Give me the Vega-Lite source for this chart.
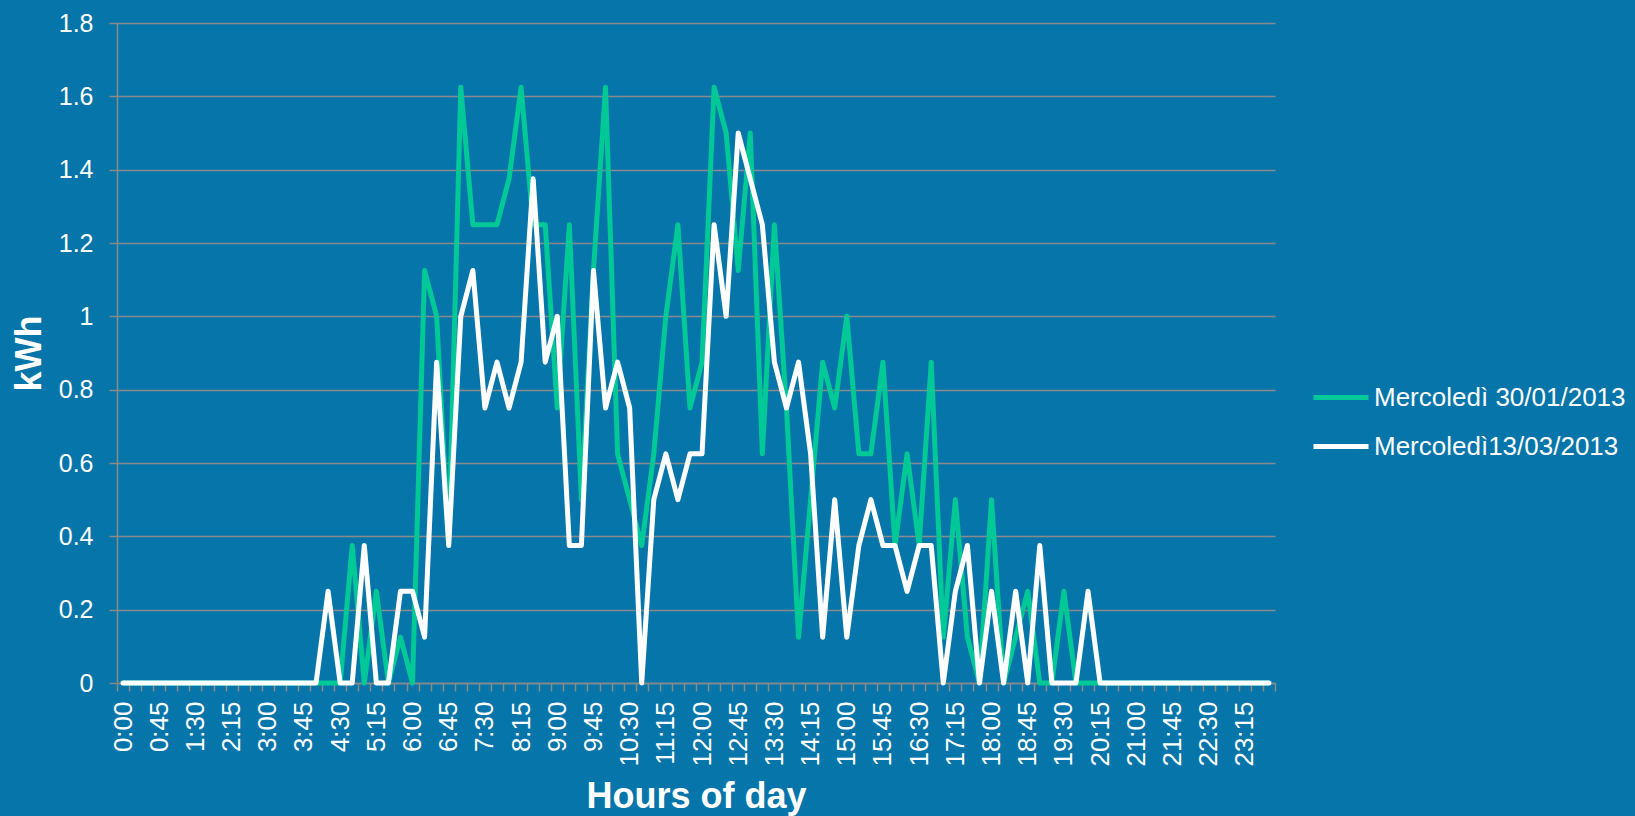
{
  "$schema": "https://vega.github.io/schema/vega-lite/v6.json",
  "width": 1158,
  "height": 660,
  "autosize": {"type": "none"},
  "padding": {"left": 117, "top": 23, "right": 360, "bottom": 133},
  "background": "#0675AA",
  "config": {
    "font": "Liberation Sans",
    "view": {"stroke": null}
  },
  "data": {
    "values": [
      {"t": "0:00", "Mercoledì 30/01/2013": 0, "Mercoledì13/03/2013": 0},
      {"t": "0:15", "Mercoledì 30/01/2013": 0, "Mercoledì13/03/2013": 0},
      {"t": "0:30", "Mercoledì 30/01/2013": 0, "Mercoledì13/03/2013": 0},
      {"t": "0:45", "Mercoledì 30/01/2013": 0, "Mercoledì13/03/2013": 0},
      {"t": "1:00", "Mercoledì 30/01/2013": 0, "Mercoledì13/03/2013": 0},
      {"t": "1:15", "Mercoledì 30/01/2013": 0, "Mercoledì13/03/2013": 0},
      {"t": "1:30", "Mercoledì 30/01/2013": 0, "Mercoledì13/03/2013": 0},
      {"t": "1:45", "Mercoledì 30/01/2013": 0, "Mercoledì13/03/2013": 0},
      {"t": "2:00", "Mercoledì 30/01/2013": 0, "Mercoledì13/03/2013": 0},
      {"t": "2:15", "Mercoledì 30/01/2013": 0, "Mercoledì13/03/2013": 0},
      {"t": "2:30", "Mercoledì 30/01/2013": 0, "Mercoledì13/03/2013": 0},
      {"t": "2:45", "Mercoledì 30/01/2013": 0, "Mercoledì13/03/2013": 0},
      {"t": "3:00", "Mercoledì 30/01/2013": 0, "Mercoledì13/03/2013": 0},
      {"t": "3:15", "Mercoledì 30/01/2013": 0, "Mercoledì13/03/2013": 0},
      {"t": "3:30", "Mercoledì 30/01/2013": 0, "Mercoledì13/03/2013": 0},
      {"t": "3:45", "Mercoledì 30/01/2013": 0, "Mercoledì13/03/2013": 0},
      {"t": "4:00", "Mercoledì 30/01/2013": 0, "Mercoledì13/03/2013": 0},
      {"t": "4:15", "Mercoledì 30/01/2013": 0, "Mercoledì13/03/2013": 0.25},
      {"t": "4:30", "Mercoledì 30/01/2013": 0, "Mercoledì13/03/2013": 0},
      {"t": "4:45", "Mercoledì 30/01/2013": 0.375, "Mercoledì13/03/2013": 0},
      {"t": "5:00", "Mercoledì 30/01/2013": 0, "Mercoledì13/03/2013": 0.375},
      {"t": "5:15", "Mercoledì 30/01/2013": 0.25, "Mercoledì13/03/2013": 0},
      {"t": "5:30", "Mercoledì 30/01/2013": 0, "Mercoledì13/03/2013": 0},
      {"t": "5:45", "Mercoledì 30/01/2013": 0.125, "Mercoledì13/03/2013": 0.25},
      {"t": "6:00", "Mercoledì 30/01/2013": 0, "Mercoledì13/03/2013": 0.25},
      {"t": "6:15", "Mercoledì 30/01/2013": 1.125, "Mercoledì13/03/2013": 0.125},
      {"t": "6:30", "Mercoledì 30/01/2013": 1, "Mercoledì13/03/2013": 0.875},
      {"t": "6:45", "Mercoledì 30/01/2013": 0.375, "Mercoledì13/03/2013": 0.375},
      {"t": "7:00", "Mercoledì 30/01/2013": 1.625, "Mercoledì13/03/2013": 1},
      {"t": "7:15", "Mercoledì 30/01/2013": 1.25, "Mercoledì13/03/2013": 1.125},
      {"t": "7:30", "Mercoledì 30/01/2013": 1.25, "Mercoledì13/03/2013": 0.75},
      {"t": "7:45", "Mercoledì 30/01/2013": 1.25, "Mercoledì13/03/2013": 0.875},
      {"t": "8:00", "Mercoledì 30/01/2013": 1.375, "Mercoledì13/03/2013": 0.75},
      {"t": "8:15", "Mercoledì 30/01/2013": 1.625, "Mercoledì13/03/2013": 0.875},
      {"t": "8:30", "Mercoledì 30/01/2013": 1.25, "Mercoledì13/03/2013": 1.375},
      {"t": "8:45", "Mercoledì 30/01/2013": 1.25, "Mercoledì13/03/2013": 0.875},
      {"t": "9:00", "Mercoledì 30/01/2013": 0.75, "Mercoledì13/03/2013": 1},
      {"t": "9:15", "Mercoledì 30/01/2013": 1.25, "Mercoledì13/03/2013": 0.375},
      {"t": "9:30", "Mercoledì 30/01/2013": 0.5, "Mercoledì13/03/2013": 0.375},
      {"t": "9:45", "Mercoledì 30/01/2013": 1.125, "Mercoledì13/03/2013": 1.125},
      {"t": "10:00", "Mercoledì 30/01/2013": 1.625, "Mercoledì13/03/2013": 0.75},
      {"t": "10:15", "Mercoledì 30/01/2013": 0.625, "Mercoledì13/03/2013": 0.875},
      {"t": "10:30", "Mercoledì 30/01/2013": 0.5, "Mercoledì13/03/2013": 0.75},
      {"t": "10:45", "Mercoledì 30/01/2013": 0.375, "Mercoledì13/03/2013": 0},
      {"t": "11:00", "Mercoledì 30/01/2013": 0.625, "Mercoledì13/03/2013": 0.5},
      {"t": "11:15", "Mercoledì 30/01/2013": 1, "Mercoledì13/03/2013": 0.625},
      {"t": "11:30", "Mercoledì 30/01/2013": 1.25, "Mercoledì13/03/2013": 0.5},
      {"t": "11:45", "Mercoledì 30/01/2013": 0.75, "Mercoledì13/03/2013": 0.625},
      {"t": "12:00", "Mercoledì 30/01/2013": 0.875, "Mercoledì13/03/2013": 0.625},
      {"t": "12:15", "Mercoledì 30/01/2013": 1.625, "Mercoledì13/03/2013": 1.25},
      {"t": "12:30", "Mercoledì 30/01/2013": 1.5, "Mercoledì13/03/2013": 1},
      {"t": "12:45", "Mercoledì 30/01/2013": 1.125, "Mercoledì13/03/2013": 1.5},
      {"t": "13:00", "Mercoledì 30/01/2013": 1.5, "Mercoledì13/03/2013": 1.375},
      {"t": "13:15", "Mercoledì 30/01/2013": 0.625, "Mercoledì13/03/2013": 1.25},
      {"t": "13:30", "Mercoledì 30/01/2013": 1.25, "Mercoledì13/03/2013": 0.875},
      {"t": "13:45", "Mercoledì 30/01/2013": 0.75, "Mercoledì13/03/2013": 0.75},
      {"t": "14:00", "Mercoledì 30/01/2013": 0.125, "Mercoledì13/03/2013": 0.875},
      {"t": "14:15", "Mercoledì 30/01/2013": 0.5, "Mercoledì13/03/2013": 0.625},
      {"t": "14:30", "Mercoledì 30/01/2013": 0.875, "Mercoledì13/03/2013": 0.125},
      {"t": "14:45", "Mercoledì 30/01/2013": 0.75, "Mercoledì13/03/2013": 0.5},
      {"t": "15:00", "Mercoledì 30/01/2013": 1, "Mercoledì13/03/2013": 0.125},
      {"t": "15:15", "Mercoledì 30/01/2013": 0.625, "Mercoledì13/03/2013": 0.375},
      {"t": "15:30", "Mercoledì 30/01/2013": 0.625, "Mercoledì13/03/2013": 0.5},
      {"t": "15:45", "Mercoledì 30/01/2013": 0.875, "Mercoledì13/03/2013": 0.375},
      {"t": "16:00", "Mercoledì 30/01/2013": 0.375, "Mercoledì13/03/2013": 0.375},
      {"t": "16:15", "Mercoledì 30/01/2013": 0.625, "Mercoledì13/03/2013": 0.25},
      {"t": "16:30", "Mercoledì 30/01/2013": 0.375, "Mercoledì13/03/2013": 0.375},
      {"t": "16:45", "Mercoledì 30/01/2013": 0.875, "Mercoledì13/03/2013": 0.375},
      {"t": "17:00", "Mercoledì 30/01/2013": 0.125, "Mercoledì13/03/2013": 0},
      {"t": "17:15", "Mercoledì 30/01/2013": 0.5, "Mercoledì13/03/2013": 0.25},
      {"t": "17:30", "Mercoledì 30/01/2013": 0.125, "Mercoledì13/03/2013": 0.375},
      {"t": "17:45", "Mercoledì 30/01/2013": 0, "Mercoledì13/03/2013": 0},
      {"t": "18:00", "Mercoledì 30/01/2013": 0.5, "Mercoledì13/03/2013": 0.25},
      {"t": "18:15", "Mercoledì 30/01/2013": 0, "Mercoledì13/03/2013": 0},
      {"t": "18:30", "Mercoledì 30/01/2013": 0.125, "Mercoledì13/03/2013": 0.25},
      {"t": "18:45", "Mercoledì 30/01/2013": 0.25, "Mercoledì13/03/2013": 0},
      {"t": "19:00", "Mercoledì 30/01/2013": 0, "Mercoledì13/03/2013": 0.375},
      {"t": "19:15", "Mercoledì 30/01/2013": 0, "Mercoledì13/03/2013": 0},
      {"t": "19:30", "Mercoledì 30/01/2013": 0.25, "Mercoledì13/03/2013": 0},
      {"t": "19:45", "Mercoledì 30/01/2013": 0, "Mercoledì13/03/2013": 0},
      {"t": "20:00", "Mercoledì 30/01/2013": 0, "Mercoledì13/03/2013": 0.25},
      {"t": "20:15", "Mercoledì 30/01/2013": 0, "Mercoledì13/03/2013": 0},
      {"t": "20:30", "Mercoledì 30/01/2013": 0, "Mercoledì13/03/2013": 0},
      {"t": "20:45", "Mercoledì 30/01/2013": 0, "Mercoledì13/03/2013": 0},
      {"t": "21:00", "Mercoledì 30/01/2013": 0, "Mercoledì13/03/2013": 0},
      {"t": "21:15", "Mercoledì 30/01/2013": 0, "Mercoledì13/03/2013": 0},
      {"t": "21:30", "Mercoledì 30/01/2013": 0, "Mercoledì13/03/2013": 0},
      {"t": "21:45", "Mercoledì 30/01/2013": 0, "Mercoledì13/03/2013": 0},
      {"t": "22:00", "Mercoledì 30/01/2013": 0, "Mercoledì13/03/2013": 0},
      {"t": "22:15", "Mercoledì 30/01/2013": 0, "Mercoledì13/03/2013": 0},
      {"t": "22:30", "Mercoledì 30/01/2013": 0, "Mercoledì13/03/2013": 0},
      {"t": "22:45", "Mercoledì 30/01/2013": 0, "Mercoledì13/03/2013": 0},
      {"t": "23:00", "Mercoledì 30/01/2013": 0, "Mercoledì13/03/2013": 0},
      {"t": "23:15", "Mercoledì 30/01/2013": 0, "Mercoledì13/03/2013": 0},
      {"t": "23:30", "Mercoledì 30/01/2013": 0, "Mercoledì13/03/2013": 0},
      {"t": "23:45", "Mercoledì 30/01/2013": 0, "Mercoledì13/03/2013": 0}
    ]
  },
  "transform": [
    {"fold": ["Mercoledì 30/01/2013", "Mercoledì13/03/2013"], "as": ["serie", "kWh"]}
  ],
  "mark": {"type": "line", "strokeWidth": 5, "strokeJoin": "round", "strokeCap": "round"},
  "encoding": {
    "x": {
      "field": "t",
      "type": "ordinal",
      "sort": null,
      "bandPosition": 0.5,
      "scale": {"type": "band", "paddingInner": 0, "paddingOuter": 0},
      "axis": {
        "title": "Hours of day",
        "titleFontSize": 36,
        "titleFontWeight": "bold",
        "titleColor": "#FFFFFF",
        "titlePadding": 13,
        "labelAngle": -90,
        "labelFontSize": 26,
        "labelColor": "#FFFFFF",
        "labelPadding": 10,
        "labelOverlap": false,
        "labelBound": false,
        "labelExpr": "(parseInt(split(datum.value, ':')[0]) * 60 + parseInt(split(datum.value, ':')[1])) % 45 == 0 ? datum.value : ''",
        "tickBand": "extent",
        "tickSize": 8,
        "tickWidth": 1.5,
        "tickColor": "#8A8A8A",
        "domainColor": "#8A8A8A",
        "domainWidth": 1.5,
        "grid": false
      }
    },
    "y": {
      "field": "kWh",
      "type": "quantitative",
      "scale": {"domain": [0, 1.8], "nice": false},
      "axis": {
        "title": "kWh",
        "titleFontSize": 36,
        "titleFontWeight": "bold",
        "titleColor": "#FFFFFF",
        "titlePadding": 10,
        "values": [0, 0.2, 0.4, 0.6, 0.8, 1, 1.2, 1.4, 1.6, 1.8],
        "format": "~g",
        "labelFontSize": 25,
        "labelColor": "#FFFFFF",
        "labelPadding": 16,
        "tickSize": 8,
        "tickWidth": 1.5,
        "tickColor": "#8A8A8A",
        "domainColor": "#8A8A8A",
        "domainWidth": 1.5,
        "grid": true,
        "gridColor": "#8A8A8A",
        "gridWidth": 1.5
      }
    },
    "color": {
      "field": "serie",
      "type": "nominal",
      "scale": {"domain": ["Mercoledì 30/01/2013", "Mercoledì13/03/2013"], "range": ["#00C896", "#FFFFFF"]},
      "legend": {
        "title": null,
        "orient": "none",
        "legendX": 1194,
        "legendY": 362,
        "padding": 0,
        "symbolType": "stroke",
        "symbolSize": 3025,
        "symbolStrokeWidth": 5,
        "clipHeight": 25,
        "rowPadding": 22,
        "labelFontSize": 26,
        "labelColor": "#FFFFFF",
        "labelOffset": 3,
        "labelLimit": 400
      }
    }
  }
}
